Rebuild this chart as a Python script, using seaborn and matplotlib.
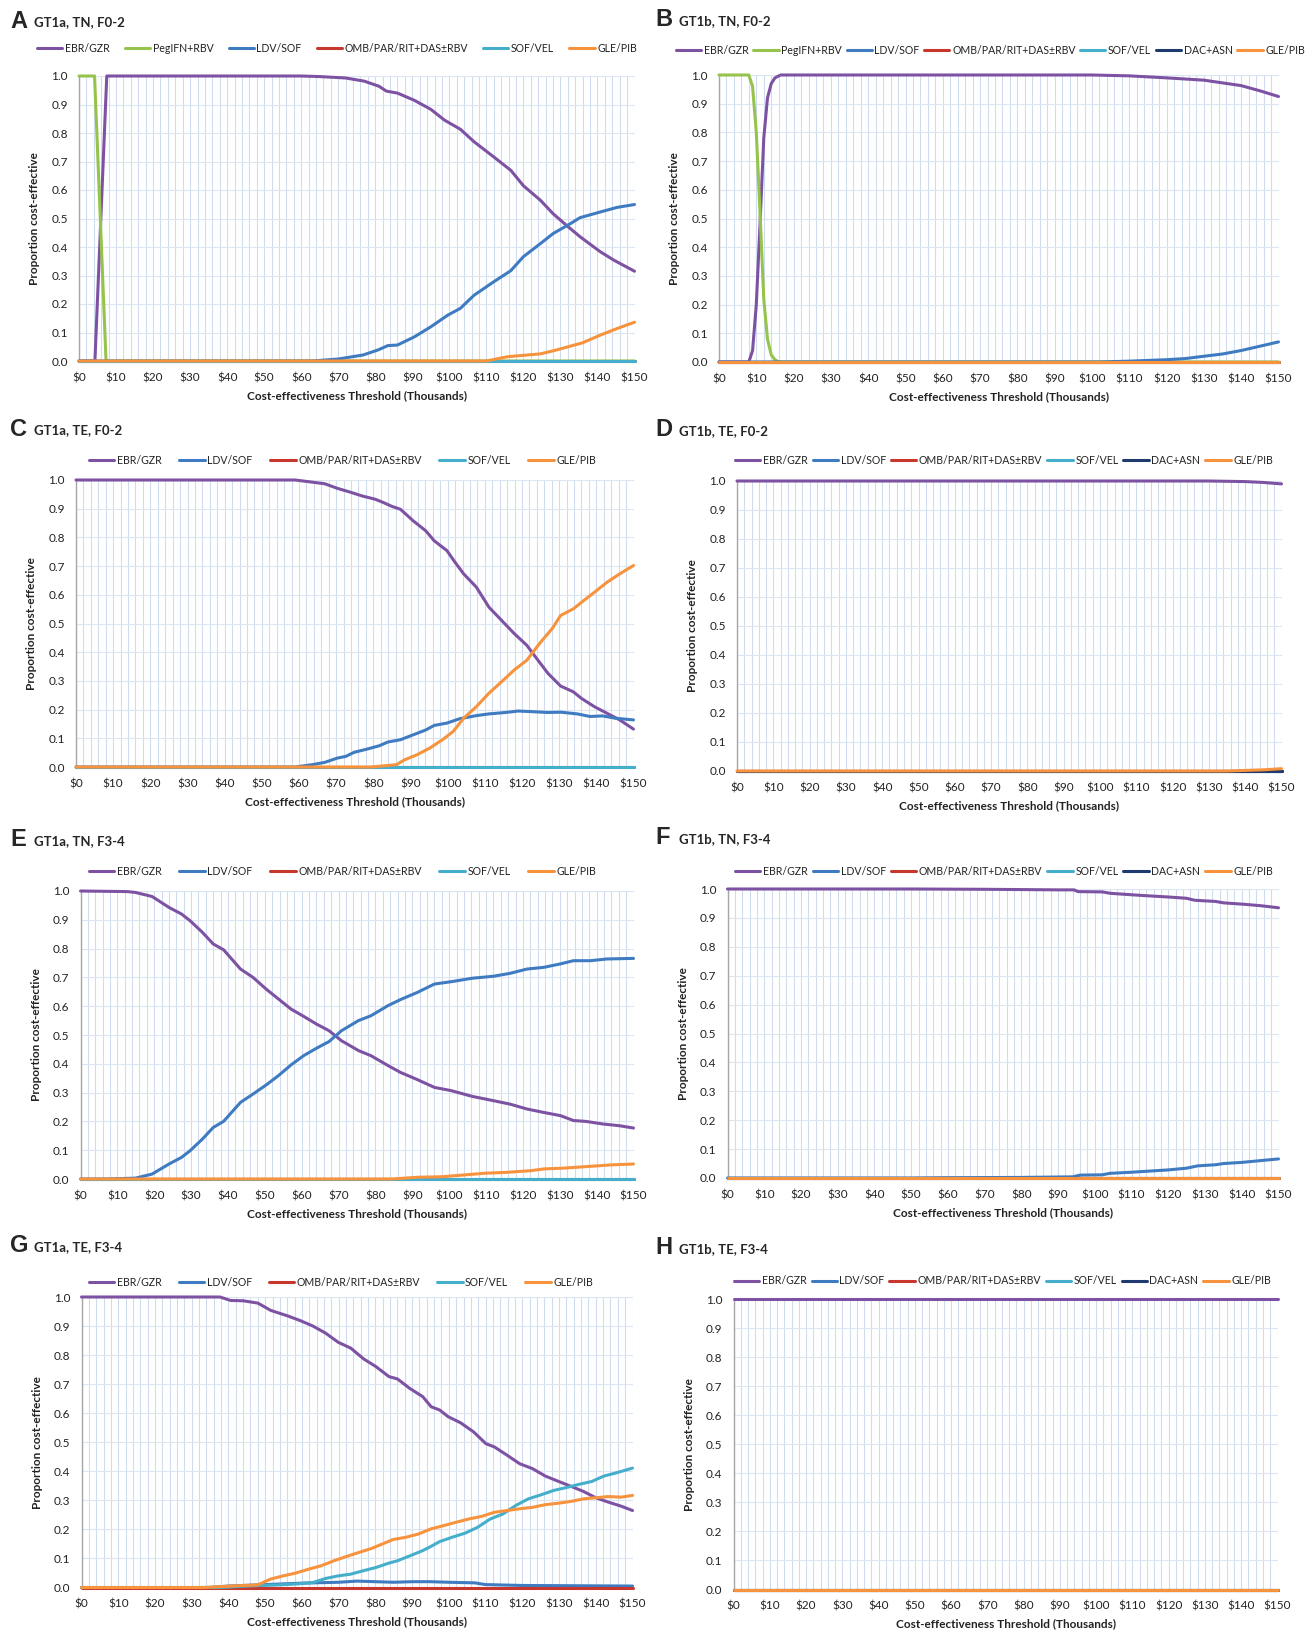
import matplotlib
matplotlib.use("Agg")
import matplotlib.pyplot as plt
import seaborn as sns
from matplotlib.ticker import MultipleLocator, FuncFormatter

sns.set_theme(style="white")
plt.rcParams['font.family'] = ['Lato', 'DejaVu Sans']

# ---------------- colours ----------------
C_EBR = '#7D52A3'
C_PEG = '#96C34B'
C_LDV = '#3F7BC1'
C_OMB = '#C8372D'
C_SOF = '#45AECB'
C_DAC = '#1F3A6E'
C_GLE = '#F7923D'

ZERO_X = [0, 150]
ZERO_Y = [0, 0]

# ---------------- Panel A: GT1a, TN, F0-2 ----------------
A_EBR_X = [0, 4.3, 7.5, 60, 65, 72, 77, 81, 83, 86, 90.5, 95, 98.7, 103, 106.7, 112, 116.6, 120, 124.6, 128, 131.8, 135.3, 140.8, 144.4, 150]
A_EBR_Y = [0, 0, 1.0, 1.0, 0.998, 0.993, 0.982, 0.964, 0.947, 0.94, 0.915, 0.883, 0.845, 0.813, 0.769, 0.716, 0.669, 0.615, 0.564, 0.517, 0.474, 0.436, 0.383, 0.354, 0.315]
A_PEG_X = [0, 4.2, 7.3, 150]
A_PEG_Y = [1.0, 1.0, 0.0, 0.0]
A_LDV_X = [0, 63, 70, 76.7, 80.8, 83.4, 86, 90.6, 95, 99.6, 103, 106.7, 112, 116.6, 120, 124.6, 128, 132.7, 135.3, 140.8, 145.3, 150]
A_LDV_Y = [0, 0, 0.007, 0.021, 0.039, 0.054, 0.056, 0.085, 0.12, 0.161, 0.185, 0.231, 0.278, 0.317, 0.366, 0.412, 0.447, 0.482, 0.503, 0.523, 0.539, 0.549]
A_GLE_X = [0, 110, 115.7, 124.6, 129, 136, 140.8, 145.3, 150]
A_GLE_Y = [0, 0, 0.015, 0.025, 0.039, 0.064, 0.091, 0.114, 0.136]

# ---------------- Panel B: GT1b, TN, F0-2 ----------------
B_EBR_X = [0, 8, 9, 10, 11, 12, 13, 14, 15, 16.5, 100, 110, 120, 130, 140, 145, 150]
B_EBR_Y = [0, 0, 0.04, 0.2, 0.48, 0.78, 0.92, 0.97, 0.99, 1.0, 1.0, 0.997, 0.99, 0.982, 0.963, 0.945, 0.925]
B_PEG_X = [0, 8, 9, 10, 11, 12, 13, 14, 15, 16, 150]
B_PEG_Y = [1.0, 1.0, 0.96, 0.8, 0.52, 0.22, 0.08, 0.025, 0.008, 0, 0]
B_LDV_X = [0, 102, 110, 120, 125, 130, 135, 140, 145, 150]
B_LDV_Y = [0, 0, 0.003, 0.008, 0.012, 0.02, 0.028, 0.04, 0.055, 0.07]

# ---------------- Panel C: GT1a, TE, F0-2 ----------------
C_EBR_X = [0, 59, 66.9, 70.3, 73.7, 77.1, 80.5, 82.8, 85, 87.3, 90.7, 94.1, 96.4, 99.8, 102, 104.3, 107.7, 111.1, 114.5, 117.9, 121.3, 123.6, 127, 130.4, 133.8, 136, 139.5, 142.9, 146.3, 150]
C_EBR_Y = [1.0, 1.0, 0.987, 0.971, 0.958, 0.944, 0.933, 0.921, 0.908, 0.898, 0.858, 0.823, 0.788, 0.754, 0.713, 0.673, 0.627, 0.557, 0.511, 0.465, 0.424, 0.384, 0.326, 0.282, 0.262, 0.239, 0.21, 0.187, 0.164, 0.132]
C_LDV_X = [0, 59, 63.5, 66.9, 70.3, 72.6, 74.8, 78.2, 81.6, 83.9, 87.3, 90.7, 94.1, 96.4, 99.8, 103.2, 107.7, 111.1, 115.6, 119, 122.4, 127, 130.4, 134.9, 138.3, 141.7, 145.1, 150]
C_LDV_Y = [0, 0, 0.008, 0.016, 0.031, 0.037, 0.051, 0.062, 0.074, 0.087, 0.095, 0.112, 0.129, 0.145, 0.153, 0.168, 0.179, 0.185, 0.19, 0.195, 0.193, 0.19, 0.191, 0.185, 0.176, 0.178, 0.17, 0.164]
C_GLE_X = [0, 79.4, 86.2, 88.4, 91.8, 95.2, 98.6, 101.5, 104.3, 107.7, 111.1, 114.5, 117.9, 121.3, 124.7, 128.1, 130.4, 133.8, 137.2, 139.5, 142.9, 146.3, 150]
C_GLE_Y = [0, 0, 0.008, 0.025, 0.043, 0.066, 0.095, 0.124, 0.17, 0.21, 0.257, 0.297, 0.338, 0.372, 0.43, 0.482, 0.528, 0.551, 0.586, 0.609, 0.644, 0.673, 0.702]

# ---------------- Panel D: GT1b, TE, F0-2 ----------------
D_EBR_X = [0, 130, 140, 145, 150]
D_EBR_Y = [1.0, 1.0, 0.998, 0.995, 0.99]
D_GLE_X = [0, 135, 140, 145, 150]
D_GLE_Y = [0, 0, 0.002, 0.004, 0.008]

# ---------------- Panel E: GT1a, TN, F3-4 ----------------
E_EBR_X = [0, 12.6, 14.9, 19.4, 24, 27.4, 29.7, 33.1, 36, 38.8, 43.4, 46.8, 50.3, 53.7, 57.1, 60.5, 64, 67.4, 70.8, 75.4, 78.8, 83.4, 86.8, 91.4, 96, 100.5, 106.2, 112, 116.5, 121.1, 125.7, 130.2, 133.7, 137.1, 141.7, 146.2, 150]
E_EBR_Y = [1.0, 0.998, 0.995, 0.981, 0.943, 0.92, 0.897, 0.856, 0.816, 0.796, 0.729, 0.7, 0.66, 0.625, 0.59, 0.565, 0.538, 0.515, 0.48, 0.446, 0.428, 0.394, 0.37, 0.345, 0.318, 0.307, 0.287, 0.272, 0.26, 0.243, 0.231, 0.22, 0.203, 0.2, 0.191, 0.185, 0.177]
E_LDV_X = [0, 6.9, 14.9, 19.4, 24, 27.4, 29.7, 33.1, 36, 38.8, 43.4, 46.8, 50.3, 53.7, 57.1, 60.5, 64, 67.4, 70.8, 75.4, 78.8, 83.4, 86.8, 91.4, 96, 100.5, 106.2, 112, 116.5, 121.1, 125.7, 130.2, 133.7, 138.3, 142.8, 150]
E_LDV_Y = [0, 0, 0.003, 0.017, 0.052, 0.075, 0.098, 0.139, 0.179, 0.2, 0.266, 0.295, 0.326, 0.359, 0.396, 0.428, 0.454, 0.477, 0.515, 0.55, 0.567, 0.602, 0.623, 0.648, 0.677, 0.685, 0.697, 0.704, 0.714, 0.729, 0.735, 0.747, 0.758, 0.758, 0.764, 0.766]
E_GLE_X = [0, 84.5, 91.4, 98.2, 104, 109.7, 115.4, 122.2, 125.7, 131.4, 138.3, 144, 150]
E_GLE_Y = [0, 0, 0.006, 0.008, 0.014, 0.02, 0.023, 0.029, 0.035, 0.038, 0.044, 0.049, 0.052]

# ---------------- Panel F: GT1b, TN, F3-4 ----------------
F_EBR_X = [0, 50, 70, 90, 94.3, 95.4, 102, 104.3, 112.4, 120.4, 124.9, 127.2, 132.8, 135.1, 140.8, 145.3, 150]
F_EBR_Y = [1.0, 1.0, 0.999, 0.997, 0.997, 0.991, 0.99, 0.985, 0.978, 0.972, 0.968, 0.961, 0.957, 0.952, 0.947, 0.942, 0.935]
F_LDV_X = [0, 50, 60, 80, 94, 96, 102, 104, 110, 120, 125, 128, 133, 135, 140, 145, 150]
F_LDV_Y = [0, 0, 0.001, 0.002, 0.004, 0.01, 0.011, 0.016, 0.02, 0.028, 0.034, 0.042, 0.046, 0.05, 0.054, 0.06, 0.066]

# ---------------- Panel G: GT1a, TE, F3-4 ----------------
G_EBR_X = [0, 37.7, 40.6, 44, 48, 51.5, 56.1, 59.5, 63, 66.4, 69.9, 73.3, 76.8, 80.2, 83.7, 86, 89.4, 92.9, 95.2, 97.5, 99.8, 103.2, 106.7, 110.1, 112.4, 115.9, 119.3, 122.8, 126.2, 129.7, 133.1, 136.6, 140, 143.4, 146.9, 150]
G_EBR_Y = [1.0, 1.0, 0.988, 0.987, 0.979, 0.954, 0.935, 0.919, 0.9, 0.876, 0.844, 0.824, 0.787, 0.76, 0.726, 0.718, 0.685, 0.657, 0.622, 0.611, 0.588, 0.567, 0.536, 0.495, 0.484, 0.455, 0.426, 0.409, 0.384, 0.366, 0.349, 0.331, 0.309, 0.294, 0.28, 0.265]
G_LDV_X = [0, 35, 40, 50, 60, 70, 75, 80, 85, 90, 95, 100, 107, 110, 120, 150]
G_LDV_Y = [0, 0, 0.005, 0.01, 0.015, 0.018, 0.022, 0.02, 0.018, 0.02, 0.02, 0.018, 0.016, 0.01, 0.007, 0.005]
G_SOF_X = [0, 37.7, 46.9, 53.8, 58.4, 63, 66.4, 69.9, 73.3, 76.8, 80.2, 83.7, 86, 89.4, 92.9, 95.2, 97.5, 100.9, 104.4, 107.8, 111.3, 114.7, 118.2, 121.6, 125.1, 128.5, 132, 135.4, 138.9, 142.3, 145.7, 150]
G_SOF_Y = [0, 0, 0.006, 0.009, 0.012, 0.017, 0.031, 0.04, 0.046, 0.058, 0.069, 0.084, 0.092, 0.109, 0.127, 0.142, 0.158, 0.173, 0.187, 0.207, 0.236, 0.253, 0.282, 0.305, 0.319, 0.334, 0.344, 0.355, 0.365, 0.384, 0.395, 0.411]
G_GLE_X = [0, 33.1, 42.3, 48, 51.5, 54.9, 58.4, 61.8, 65.3, 68.7, 72.2, 75.6, 79.1, 82.5, 84.8, 88.3, 91.7, 95.2, 98.6, 102.1, 105.5, 109, 112.4, 115.9, 119.3, 122.8, 126.2, 129.7, 133.1, 136.6, 140, 143.4, 146.9, 150]
G_GLE_Y = [0, 0, 0.006, 0.009, 0.029, 0.04, 0.05, 0.063, 0.075, 0.092, 0.107, 0.121, 0.135, 0.153, 0.165, 0.173, 0.184, 0.202, 0.213, 0.225, 0.236, 0.245, 0.259, 0.265, 0.271, 0.276, 0.285, 0.29, 0.296, 0.305, 0.309, 0.313, 0.311, 0.317]

# ---------------- Panel H: GT1b, TE, F3-4 ----------------
H_EBR_X = [0, 150]
H_EBR_Y = [1.0, 1.0]

# ---------------- panel definitions ----------------
# (letter, subtitle, axes rect px [left, top, right, bottom], legend left/right/y px, series)
PANELS = [
    ('A', 'GT1a, TN, F0-2', (79, 76, 634.5, 361), (37, 637, 48), [
        ('EBR/GZR', C_EBR, A_EBR_X, A_EBR_Y), ('PegIFN+RBV', C_PEG, A_PEG_X, A_PEG_Y),
        ('LDV/SOF', C_LDV, A_LDV_X, A_LDV_Y), ('OMB/PAR/RIT+DAS±RBV', C_OMB, ZERO_X, ZERO_Y),
        ('SOF/VEL', C_SOF, ZERO_X, ZERO_Y), ('GLE/PIB', C_GLE, A_GLE_X, A_GLE_Y)]),
    ('B', 'GT1b, TN, F0-2', (719, 75, 1278.5, 362), (676, 1305, 50), [
        ('EBR/GZR', C_EBR, B_EBR_X, B_EBR_Y), ('PegIFN+RBV', C_PEG, B_PEG_X, B_PEG_Y),
        ('LDV/SOF', C_LDV, B_LDV_X, B_LDV_Y), ('OMB/PAR/RIT+DAS±RBV', C_OMB, ZERO_X, ZERO_Y),
        ('SOF/VEL', C_SOF, ZERO_X, ZERO_Y), ('DAC+ASN', C_DAC, ZERO_X, ZERO_Y),
        ('GLE/PIB', C_GLE, ZERO_X, ZERO_Y)]),
    ('C', 'GT1a, TE, F0-2', (76, 480, 633.5, 767), (89, 596, 460), [
        ('EBR/GZR', C_EBR, C_EBR_X, C_EBR_Y), ('LDV/SOF', C_LDV, C_LDV_X, C_LDV_Y),
        ('OMB/PAR/RIT+DAS±RBV', C_OMB, ZERO_X, ZERO_Y), ('SOF/VEL', C_SOF, ZERO_X, ZERO_Y),
        ('GLE/PIB', C_GLE, C_GLE_X, C_GLE_Y)]),
    ('D', 'GT1b, TE, F0-2', (737, 481, 1281.5, 771), (735, 1273, 460), [
        ('EBR/GZR', C_EBR, D_EBR_X, D_EBR_Y), ('LDV/SOF', C_LDV, ZERO_X, ZERO_Y),
        ('OMB/PAR/RIT+DAS±RBV', C_OMB, ZERO_X, ZERO_Y), ('SOF/VEL', C_SOF, ZERO_X, ZERO_Y),
        ('DAC+ASN', C_DAC, ZERO_X, ZERO_Y), ('GLE/PIB', C_GLE, D_GLE_X, D_GLE_Y)]),
    ('E', 'GT1a, TN, F3-4', (80.5, 891, 633.5, 1179), (89, 596, 871), [
        ('EBR/GZR', C_EBR, E_EBR_X, E_EBR_Y), ('LDV/SOF', C_LDV, E_LDV_X, E_LDV_Y),
        ('OMB/PAR/RIT+DAS±RBV', C_OMB, ZERO_X, ZERO_Y), ('SOF/VEL', C_SOF, ZERO_X, ZERO_Y),
        ('GLE/PIB', C_GLE, E_GLE_X, E_GLE_Y)]),
    ('F', 'GT1b, TN, F3-4', (727.5, 889, 1278.5, 1178), (735, 1273, 871), [
        ('EBR/GZR', C_EBR, F_EBR_X, F_EBR_Y), ('LDV/SOF', C_LDV, F_LDV_X, F_LDV_Y),
        ('OMB/PAR/RIT+DAS±RBV', C_OMB, ZERO_X, ZERO_Y), ('SOF/VEL', C_SOF, ZERO_X, ZERO_Y),
        ('DAC+ASN', C_DAC, ZERO_X, ZERO_Y), ('GLE/PIB', C_GLE, ZERO_X, ZERO_Y)]),
    ('G', 'GT1a, TE, F3-4', (81.5, 1297, 632.5, 1587.5), (89, 593, 1282), [
        ('EBR/GZR', C_EBR, G_EBR_X, G_EBR_Y), ('LDV/SOF', C_LDV, G_LDV_X, G_LDV_Y),
        ('OMB/PAR/RIT+DAS±RBV', C_OMB, ZERO_X, ZERO_Y), ('SOF/VEL', C_SOF, G_SOF_X, G_SOF_Y),
        ('GLE/PIB', C_GLE, G_GLE_X, G_GLE_Y)]),
    ('H', 'GT1b, TE, F3-4', (733.5, 1299, 1277.5, 1589.5), (734, 1271, 1281), [
        ('EBR/GZR', C_EBR, H_EBR_X, H_EBR_Y), ('LDV/SOF', C_LDV, ZERO_X, ZERO_Y),
        ('OMB/PAR/RIT+DAS±RBV', C_OMB, ZERO_X, ZERO_Y), ('SOF/VEL', C_SOF, ZERO_X, ZERO_Y),
        ('DAC+ASN', C_DAC, ZERO_X, ZERO_Y), ('GLE/PIB', C_GLE, ZERO_X, ZERO_Y)]),
]

W, H = 1315, 1636
fig = plt.figure(figsize=(W / 100, H / 100), dpi=100)
fig.patch.set_facecolor('white')
renderer = fig.canvas.get_renderer()

GRID_C = '#CFDCEF'
AX_C = '#A6A6A6'


def fitted_legend(handles, labels, x0, x1, yc):
    """Place a one-row legend whose width spans x0..x1 (pixels)."""
    target = x1 - x0
    n = len(labels)
    fs = 7.6
    kw = dict(loc='center', ncol=n, frameon=False, handlelength=2.4,
              handletextpad=0.25, borderaxespad=0, borderpad=0,
              labelcolor='#222222')
    for _ in range(4):
        leg = fig.legend(handles, labels, fontsize=fs, columnspacing=0.3,
                         bbox_to_anchor=((x0 + x1) / 2 / W, 1 - yc / H), **kw)
        w = leg.get_window_extent(renderer).width
        if w <= target:
            break
        leg.remove()
        fs *= target / w * 0.98
    leg.remove()
    fs_px = fs * 100 / 72
    cs = 0.3 + (target - w) / (n - 1) / fs_px
    return fig.legend(handles, labels, fontsize=fs, columnspacing=cs,
                      bbox_to_anchor=((x0 + x1) / 2 / W, 1 - yc / H), **kw)


for letter, sub, (l, t, r, b), (lx0, lx1, lyc), series in PANELS:
    ax = fig.add_axes([l / W, 1 - b / H, (r - l) / W, (b - t) / H])
    ax.set_facecolor('white')
    for name, col, xs, ys in series:
        sns.lineplot(x=xs, y=ys, ax=ax, color=col, lw=2.2, label=name,
                     estimator=None, sort=False, clip_on=False, zorder=3)
    ax.set_xlim(0, 150)
    ax.set_ylim(0, 1)
    ax.set_xticks(range(0, 151, 10))
    ax.xaxis.set_minor_locator(MultipleLocator(2))
    ax.set_yticks([i / 10 for i in range(11)])
    ax.xaxis.set_major_formatter(FuncFormatter(lambda v, p: f'${int(v)}'))
    ax.yaxis.set_major_formatter(FuncFormatter(lambda v, p: f'{v:.1f}'))
    ax.grid(which='both', axis='x', color=GRID_C, lw=0.8, zorder=0)
    ax.grid(which='major', axis='y', color='#DCE5F2', lw=0.8, zorder=0)
    ax.set_axisbelow(True)
    for s in ('top', 'right'):
        ax.spines[s].set_visible(False)
    for s in ('left', 'bottom'):
        ax.spines[s].set_color(AX_C)
        ax.spines[s].set_linewidth(1.0)
    ax.tick_params(axis='x', which='major', length=3, width=0.8, color=AX_C,
                   direction='out', pad=5, labelsize=8.5, labelcolor='#222222')
    ax.tick_params(axis='x', which='minor', length=0)
    ax.tick_params(axis='y', length=0, pad=8, labelsize=8.5, labelcolor='#222222')
    ax.set_xlabel('Cost-effectiveness Threshold (Thousands)', fontsize=8.5,
                  fontweight='bold', labelpad=5, color='#222222')
    ax.set_ylabel('Proportion cost-effective', fontsize=8.5, fontweight='bold',
                  labelpad=8, color='#222222')
    handles, labels = ax.get_legend_handles_labels()
    ax.get_legend().remove()
    fitted_legend(handles, labels, lx0, lx1, lyc)
    # panel letter and subtitle
    px = 10 if l < 300 else 655
    py = t - 55 if letter in 'AB' else t - 51
    fig.text(px / W, 1 - py / H, letter, fontsize=17, fontweight='bold',
             family=['Liberation Sans', 'DejaVu Sans'], va='center', ha='left')
    fig.text((px + 24) / W, 1 - (py + 1) / H, sub, fontsize=9.5, fontweight='bold',
             va='center', ha='left')

fig.savefig('out.png', dpi=100, facecolor='white')
